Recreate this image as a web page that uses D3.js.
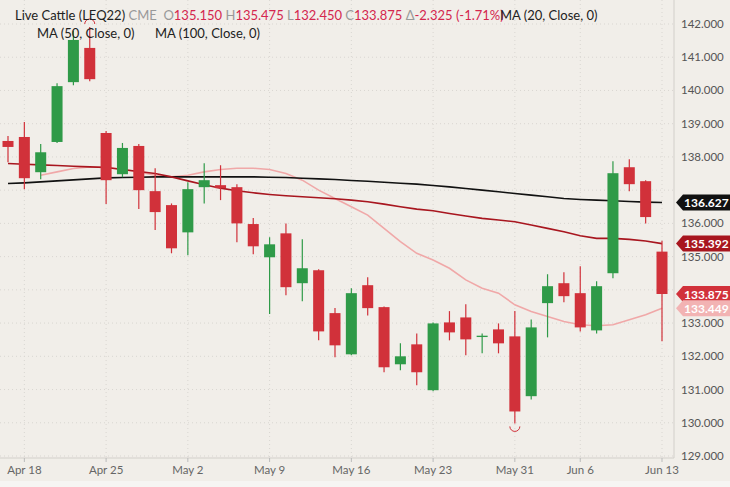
<!DOCTYPE html>
<html><head><meta charset="utf-8">
<script src="https://cdn.jsdelivr.net/npm/d3@7"></script>
<style>body{margin:0;background:#f1eee9;font-family:Lato,sans-serif}</style></head>
<body><svg id="c" width="730" height="487"></svg>
<script>
const dates=["Apr 14","Apr 18","Apr 19","Apr 20","Apr 21","Apr 22","Apr 25","Apr 26","Apr 27","Apr 28","Apr 29","May 2","May 3","May 4","May 5","May 6","May 9","May 10","May 11","May 12","May 13","May 16","May 17","May 18","May 19","May 20","May 23","May 24","May 25","May 26","May 27","May 31","Jun 1","Jun 2","Jun 3","Jun 6","Jun 7","Jun 8","Jun 9","Jun 10","Jun 13"];
const open=[138.48,138.6,137.54,138.45,140.25,141.28,138.72,137.48,138.33,136.97,136.55,135.73,137.09,137.15,137.09,135.98,134.98,135.7,134.2,134.59,133.3,132.06,134.14,133.48,131.76,132.36,130.98,133.02,133.17,132.58,132.81,132.6,130.8,133.6,134.2,133.9,132.78,134.5,137.69,137.27,135.15];
const high=[138.63,139.05,138.39,140.22,141.8,141.91,138.78,138.42,138.39,137.66,136.6,137.24,137.81,137.75,137.18,136.16,135.58,136.0,135.52,134.62,133.45,134.05,134.38,133.5,132.39,132.69,133.02,133.36,133.57,132.69,132.99,133.36,133.11,134.47,134.53,134.71,134.26,137.87,137.93,137.3,135.475];
const low=[137.84,137.03,137.33,138.42,140.16,140.28,136.58,137.39,136.43,135.8,135.1,135.04,136.6,136.7,135.43,135.07,133.27,133.84,133.66,132.48,131.97,132.03,133.23,131.52,131.58,131.13,130.95,132.48,132.03,132.09,132.09,129.98,130.7,132.57,133.63,132.75,132.69,134.35,136.97,136.0,132.45];
const close=[138.3,137.36,138.14,140.13,141.52,140.34,137.3,138.27,137.0,136.34,135.25,137.03,137.3,137.06,136.0,135.31,135.37,134.08,134.65,132.75,132.33,133.9,133.45,131.67,132.0,131.52,132.99,132.72,132.51,132.62,132.39,130.34,132.87,134.11,133.81,132.87,134.11,137.51,137.18,136.19,133.875];
const ma20=[null,null,137.45,137.55,137.65,137.7,137.7,137.62,137.55,137.45,137.4,137.45,137.55,137.62,137.66,137.66,137.62,137.5,137.3,137.0,136.75,136.5,136.25,135.85,135.45,135.1,134.9,134.65,134.3,134.05,133.9,133.55,133.35,133.2,133.05,132.95,132.92,132.95,133.1,133.25,133.449];
const ma50=[137.8,137.78,137.76,137.74,137.72,137.7,137.68,137.62,137.56,137.5,137.4,137.28,137.16,137.06,136.98,136.92,136.87,136.83,136.8,136.77,136.74,136.7,136.65,136.58,136.5,136.43,136.38,136.3,136.22,136.15,136.1,136.05,135.95,135.85,135.75,135.63,135.55,135.55,135.52,135.47,135.392];
const ma100=[137.2,137.22,137.25,137.28,137.31,137.34,137.37,137.38,137.39,137.4,137.4,137.4,137.4,137.4,137.4,137.4,137.39,137.38,137.36,137.34,137.32,137.29,137.27,137.24,137.21,137.18,137.14,137.1,137.05,137.0,136.95,136.9,136.85,136.8,136.75,136.72,136.7,136.68,136.66,136.64,136.627];
const yTicks=[129,130,131,132,133,134,135,136,137,138,139,140,141,142];
const xTickLabels=["Apr 18","Apr 25","May 2","May 9","May 16","May 23","May 31","Jun 6","Jun 13"];

const svg=d3.select("#c");
const x=d3.scaleLinear().domain([0,40]).range([8,662]);
const y=d3.scaleLinear().domain([129,142]).range([456,24]);
const W=674,B=458;
const g=svg.append("g");
g.append("rect").attr("x",0).attr("y",0).attr("width",730).attr("height",487).attr("fill","#f1eee9");
g.selectAll(".hg").data(yTicks).join("line").attr("x1",0).attr("x2",W).attr("y1",d=>y(d)).attr("y2",d=>y(d)).attr("stroke","#d9d6d1").attr("stroke-dasharray","1,3");
const tickIdx=xTickLabels.map(l=>dates.indexOf(l));
g.selectAll(".vg").data(tickIdx).join("line").attr("x1",d=>x(d)).attr("x2",d=>x(d)).attr("y1",0).attr("y2",B).attr("stroke","#d9d6d1").attr("stroke-dasharray","1,3");
g.append("line").attr("x1",W).attr("x2",W).attr("y1",0).attr("y2",B).attr("stroke","#d2cfca");
g.append("line").attr("x1",0).attr("x2",W).attr("y1",B).attr("y2",B).attr("stroke","#d2cfca");
g.selectAll(".xt").data(tickIdx).join("line").attr("x1",d=>x(d)).attr("x2",d=>x(d)).attr("y1",B).attr("y2",B+4).attr("stroke","#bbb");
g.selectAll(".xl").data(tickIdx).join("text").attr("x",d=>x(d)).attr("y",474).attr("text-anchor","middle").attr("font-size",11.5).attr("fill","#666").text((d,i)=>xTickLabels[i]);
const tagVals=[ma100[40],ma50[40],close[40],ma20[40]];
g.selectAll(".yl").data(yTicks.filter(t=>tagVals.every(v=>Math.abs(y(v)-y(t))>13))).join("text").attr("x",681).attr("y",d=>y(d)+4).attr("font-size",11.5).attr("fill","#555").text(d=>d.toFixed(3));
g.append("rect").attr("x",0).attr("y",481).attr("width",730).attr("height",6).attr("fill","#f6f5f3");
const line=arr=>d3.line().defined(d=>d!=null).x((d,i)=>x(i)).y(d=>y(d))(arr);
g.append("path").attr("d",line(ma20)).attr("fill","none").attr("stroke","#f0a8a8").attr("stroke-width",1.6);
g.append("path").attr("d",line(ma100)).attr("fill","none").attr("stroke","#111").attr("stroke-width",1.6);
g.append("path").attr("d",line(ma50)).attr("fill","none").attr("stroke","#a8161f").attr("stroke-width",1.6);
const idx=d3.range(dates.length);
const col=i=>close[i]>=open[i]?"#2f9a48":"#d1313a";
g.selectAll(".wk").data(idx).join("line").attr("x1",i=>x(i)).attr("x2",i=>x(i)).attr("y1",i=>y(high[i])).attr("y2",i=>y(low[i])).attr("stroke",col).attr("stroke-width",1.2);
g.selectAll(".bd").data(idx).join("rect").attr("x",i=>x(i)-5.5).attr("width",11).attr("y",i=>y(Math.max(open[i],close[i]))).attr("height",i=>Math.max(1.2,Math.abs(y(open[i])-y(close[i])))).attr("fill",col);
const hi=d3.maxIndex(high), lo=d3.minIndex(low);
g.append("path").attr("d",`M${x(hi)-5},${y(high[hi])-3} A5,5 0 0 1 ${x(hi)+5},${y(high[hi])-3}`).attr("fill","none").attr("stroke","#d1313a");
g.append("path").attr("d",`M${x(lo)-5},${y(low[lo])+3} A5,5 0 0 0 ${x(lo)+5},${y(low[lo])+3}`).attr("fill","none").attr("stroke","#d1313a");
const cols=[["#111","#fff"],["#a8161f","#fff"],["#d1313a","#fff"],["#f2b3b3","#fff"]];
tagVals.forEach((v,k)=>{const yy=y(v);
 g.append("path").attr("d",`M676,${yy} L683,${yy-8} L730,${yy-8} L730,${yy+8} L683,${yy+8} Z`).attr("fill",cols[k][0]);
 g.append("text").attr("x",684).attr("y",yy+4.5).attr("font-size",12).attr("font-weight","bold").attr("fill",cols[k][1]).text(v.toFixed(3));});
const h=g.append("text").attr("x",15).attr("y",20).attr("font-size",13).attr("xml:space","preserve");
[["Live Cattle (LEQ22) ","#222"],["CME  ","#999"],["O","#999"],["135.150 ","#d4264e"],["H","#999"],["135.475 ","#d4264e"],["L","#999"],["132.450 ","#d4264e"],["C","#999"],["133.875 ","#d4264e"],["Δ","#999"],["-2.325 (-1.71%)","#d4264e"]].forEach(([t,c])=>h.append("tspan").attr("fill",c).text(t));
g.append("text").attr("x",37).attr("y",38).attr("font-size",13).attr("fill","#222").text("MA (50, Close, 0)");
g.append("text").attr("x",155).attr("y",38).attr("font-size",13).attr("fill","#222").text("MA (100, Close, 0)");
g.append("text").attr("x",500).attr("y",20).attr("font-size",13).attr("fill","#222").text("MA (20, Close, 0)");
</script></body></html>
